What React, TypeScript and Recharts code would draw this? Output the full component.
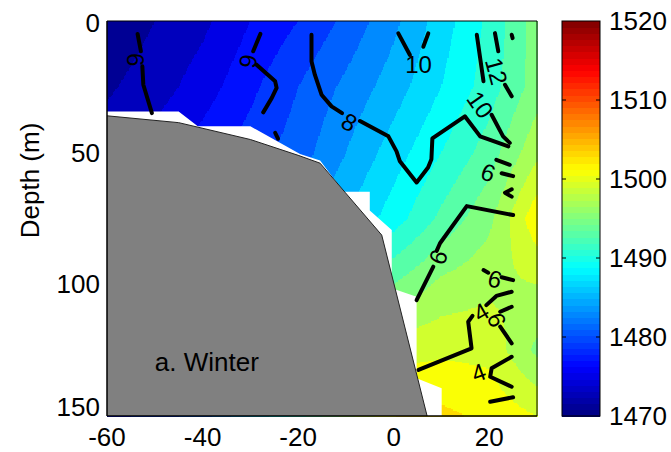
import React from 'react'
import { ComposedChart, XAxis, YAxis, Area, Line, Scatter, ReferenceArea } from 'recharts'

const FONT = '"Liberation Sans", Arial, Helvetica, sans-serif'

const X_MIN = -60
const X_MAX = 30
const D_MAX = 150
const C_MIN = 1470
const C_MAX = 1520

const xTicks = [-60, -40, -20, 0, 20]
const depthTicks = [0, 50, 100, 150]
const speedTicks = [1470, 1480, 1490, 1500, 1510, 1520]

// sound speed section (m/s), one row per depth, columns at gridX
const gridX = [-60, -50, -40, -30, -20, -10, 0, 10, 20, 30]
const gridDepth = [0, 25, 50, 75, 100, 125, 150]
const speed0 = [1470.5, 1472, 1473.5, 1476, 1478, 1480.5, 1483.5, 1487, 1490.5, 1495]
const speed25 = [1471.7, 1473, 1475, 1477.5, 1480, 1482.5, 1485, 1488, 1491, 1495]
const speed50 = [1473, 1475, 1477, 1479, 1481, 1484, 1487, 1490, 1493, 1497.5]
const speed75 = [1474, 1476, 1478, 1480, 1483, 1486, 1489, 1492.5, 1495.5, 1501.5]
const speed100 = [1475, 1477, 1479, 1482, 1486, 1490, 1494, 1496.5, 1497.5, 1498]
const speed125 = [1476, 1478, 1480, 1484, 1489, 1494, 1499.3, 1499.6, 1499.4, 1495.5]
const speed150 = [1477, 1479, 1481, 1486, 1491, 1497, 1502, 1502.5, 1501.5, 1500]
const speedRows = [speed0, speed25, speed50, speed75, speed100, speed125, speed150]

// lower edge of the sampled water (below it: no data)
const noDataEdge = [
  { x: -60, d: 34.4 }, { x: -45, d: 34.4 }, { x: -41, d: 40 }, { x: -30, d: 40 },
  { x: -19.6, d: 50.5 }, { x: -15.4, d: 53 }, { x: -10.5, d: 64.8 }, { x: -5, d: 64.8 },
  { x: -5, d: 72 }, { x: -0.4, d: 79.4 }, { x: -0.4, d: 101.5 }, { x: 4.8, d: 104.7 },
  { x: 4.8, d: 135.7 }, { x: 10.05, d: 139.5 }, { x: 10.05, d: 150 },
]

// bottom profile
const seabed = [
  { x: -60, d: 36 }, { x: -45, d: 38.6 }, { x: -30, d: 45 }, { x: -20, d: 51 },
  { x: -15.4, d: 54 }, { x: -10.2, d: 65 }, { x: -2.5, d: 81.3 }, { x: 7, d: 150 },
]

// temperature contour pieces (gaps left for the inline labels)
const isotherms = [
  [{ x: -53.6, d: 4.9 }, { x: -52.9, d: 11.5 }],
  [{ x: -52.6, d: 17.2 }, { x: -52.4, d: 24.2 }, { x: -50.6, d: 35 }],
  [{ x: -27.9, d: 4.9 }, { x: -29.4, d: 11.5 }],
  [{ x: -28.7, d: 16.6 }, { x: -24.8, d: 22.9 }, { x: -24.5, d: 25.4 }, { x: -25.5, d: 29.2 }, { x: -27.3, d: 34.7 }],
  [{ x: -24.8, d: 42.5 }, { x: -24.2, d: 44.7 }],
  [{ x: -17.2, d: 5.2 }, { x: -17.2, d: 15.3 }, { x: -16.5, d: 20.4 }, { x: -15.1, d: 28 }, { x: -13, d: 32.4 }, { x: -10.8, d: 35 }],
  [
    { x: -7.05, d: 38 }, { x: -1.1, d: 43.8 }, { x: 0.6, d: 49.5 }, { x: 1.3, d: 53.3 }, { x: 4.8, d: 61.3 },
    { x: 7.2, d: 55.6 }, { x: 7.9, d: 52.5 }, { x: 8.1, d: 44.6 }, { x: 14.9, d: 36.2 }, { x: 18.1, d: 43.8 },
    { x: 24.0, d: 47.6 },
  ],
  [{ x: 20.5, d: 35.6 }, { x: 22.9, d: 43.8 }, { x: 24.3, d: 46.3 }],
  [{ x: 0.97, d: 4.7 }, { x: 3.4, d: 12.9 }],
  [{ x: 7.25, d: 4.7 }, { x: 6.2, d: 9.8 }],
  [{ x: 17.4, d: 5.2 }, { x: 18.8, d: 22.9 }],
  [{ x: 21.2, d: 4.6 }, { x: 21.9, d: 11.5 }],
  [{ x: 23.3, d: 24.2 }, { x: 24.7, d: 28.6 }],
  [{ x: 24.7, d: 5.2 }, { x: 24.9, d: 6.5 }],
  [{ x: 21.5, d: 52.7 }, { x: 24.3, d: 54.6 }],
  [{ x: 22.6, d: 57.8 }, { x: 25, d: 58.9 }],
  [{ x: 24.7, d: 63.9 }, { x: 23.3, d: 65.2 }, { x: 24.7, d: 66.7 }],
  [{ x: 25, d: 73.7 }, { x: 15.3, d: 70.3 }, { x: 9.7, d: 84.4 }, { x: 9.0, d: 87.3 }],
  [{ x: 8.3, d: 93.3 }, { x: 4.8, d: 106 }],
  [{ x: 18.8, d: 94.6 }, { x: 19.8, d: 95.6 }],
  [{ x: 22.6, d: 97.3 }, { x: 25, d: 98.4 }],
  [{ x: 24.7, d: 102.8 }, { x: 21.5, d: 104.4 }, { x: 19.4, d: 107.9 }],
  [{ x: 22.3, d: 110.4 }, { x: 24.7, d: 108.5 }],
  [{ x: 22.3, d: 116.1 }, { x: 24.7, d: 122.4 }],
  [{ x: 16.5, d: 112 }, { x: 15.6, d: 114.2 }, { x: 16.3, d: 124.3 }, { x: 5.2, d: 132.5 }],
  [{ x: 24.7, d: 127.5 }, { x: 20.5, d: 131.9 }, { x: 20.2, d: 135.1 }, { x: 24.7, d: 138.9 }],
  [{ x: 20.2, d: 144.6 }, { x: 25, d: 142.9 }],
]

const isothermLabels = [
  { x: -54.1, d: 14.7, t: '6' },
  { x: -30.4, d: 15.3, t: '6' },
  { x: -9.3, d: 38.4, t: '8' },
  { x: 5.2, d: 16.7, t: '10' },
  { x: 21.5, d: 19.1, t: '12' },
  { x: 18.1, d: 31.8, t: '10' },
  { x: 19.8, d: 57.6, t: '6' },
  { x: 9.3, d: 89.7, t: '6' },
  { x: 21.2, d: 98, t: '6' },
  { x: 18.3, d: 110.5, t: '4' },
  { x: 21.6, d: 113.5, t: '6' },
  { x: 17.8, d: 133.5, t: '4' },
]
const labelAngles = [90, 100, 30, 0, 75, 55, 20, -68, 15, -30, 70, -20]

const panelTitle = { x: -50, d: 129.5, t: 'a. Winter' }

function jet(t: number) {
  const c = (v: number) => Math.round(255 * Math.max(0, Math.min(1, v)))
  return `rgb(${c(1.5 - Math.abs(4 * t - 3))},${c(1.5 - Math.abs(4 * t - 2))},${c(1.5 - Math.abs(4 * t - 1))})`
}

function speedAt(x: number, d: number) {
  let i = 0
  while (i < gridX.length - 2 && x > gridX[i + 1]) i++
  let j = 0
  while (j < gridDepth.length - 2 && d > gridDepth[j + 1]) j++
  const tx = (x - gridX[i]) / (gridX[i + 1] - gridX[i])
  const ty = (d - gridDepth[j]) / (gridDepth[j + 1] - gridDepth[j])
  const r0 = speedRows[j]
  const r1 = speedRows[j + 1]
  const top = r0[i] * (1 - tx) + r0[i + 1] * tx
  const bot = r1[i] * (1 - tx) + r1[i + 1] * tx
  return top * (1 - ty) + bot * ty
}

// filled-contour style: 2 m/s bands
const BAND = 2
function bandColor(v: number) {
  const lo = Math.floor((v - C_MIN) / BAND) * BAND + C_MIN
  return jet((lo + BAND / 2 - C_MIN) / (C_MAX - C_MIN))
}

function FieldShape(p: any) {
  const { x, y, width, height } = p
  const px = (v: number) => x + ((v - X_MIN) / (X_MAX - X_MIN)) * width
  const py = (d: number) => y + (d / D_MAX) * height
  const rects: React.ReactNode[] = []
  const dStep = 0.5
  const xStep = 0.25
  for (let d = 0; d < D_MAX; d += dStep) {
    const dc = d + dStep / 2
    let runStart = X_MIN
    let runColor: string | null = bandColor(speedAt(X_MIN + xStep / 2, dc))
    for (let xv = X_MIN + xStep; xv <= X_MAX; xv += xStep) {
      const c = xv >= X_MAX ? null : bandColor(speedAt(xv + xStep / 2, dc))
      if (c !== runColor) {
        rects.push(
          <rect
            key={`${d}_${runStart}`}
            x={px(runStart)}
            y={py(d)}
            width={px(xv) - px(runStart) + 0.6}
            height={py(d + dStep) - py(d) + 0.6}
            fill={runColor as string}
          />
        )
        runStart = xv
        runColor = c
      }
    }
  }
  return <g shapeRendering="crispEdges">{rects}</g>
}

function ColorbarShape(p: any) {
  const { x, y, width, height } = p
  const n = 64
  const sy = (v: number) => y + ((C_MAX - v) / (C_MAX - C_MIN)) * height
  const bands = []
  for (let k = 0; k < n; k++) {
    bands.push(
      <rect key={k} x={x} y={y + height * (1 - (k + 1) / n)} width={width} height={height / n + 0.6} fill={jet((k + 0.5) / n)} />
    )
  }
  return (
    <g>
      <g shapeRendering="crispEdges">{bands}</g>
      {speedTicks.slice(1, -1).map((v) => (
        <g key={v} stroke="#000" strokeWidth={1}>
          <line x1={x} x2={x + 4} y1={sy(v)} y2={sy(v)} />
          <line x1={x + width - 4} x2={x + width} y1={sy(v)} y2={sy(v)} />
        </g>
      ))}
      <rect x={x} y={y} width={width} height={height} fill="none" stroke="#000" strokeWidth={1} />
    </g>
  )
}

const ContourLabel = (p: any) => {
  const { cx, cy, payload } = p
  return (
    <text
      x={cx}
      y={cy}
      textAnchor="middle"
      dominantBaseline="central"
      fontSize={24}
      fontFamily={FONT}
      fill="#000"
      transform={`rotate(${payload.a} ${cx} ${cy})`}
    >
      {payload.t}
    </text>
  )
}

const TitleLabel = (p: any) => (
  <text x={p.cx} y={p.cy} dominantBaseline="central" fontSize={26} fontFamily={FONT} fill="#000">
    {p.payload.t}
  </text>
)

const DepthTitle = (p: any) => {
  const vb = p.viewBox
  const cx = vb.x - 17
  const cy = vb.y + vb.height / 2 - 38
  return (
    <text x={cx} y={cy} textAnchor="middle" dominantBaseline="central" fontSize={26} fontFamily={FONT} fill="#000" transform={`rotate(-90 ${cx} ${cy})`}>
      Depth (m)
    </text>
  )
}

// depth tick labels; the end labels are nudged inward so they stay clear of the x labels
const DepthTick = (p: any) => {
  const v = p.payload.value
  const nudge = v === D_MAX ? -9 : v === 0 ? 2 : 0
  return (
    <text x={p.x} y={p.y + nudge} textAnchor="end" dominantBaseline="central" fontSize={26} fontFamily={FONT} fill="#000">
      {v}
    </text>
  )
}

const tickStyle = { fill: '#000', fontSize: 26, fontFamily: FONT }

export default function App() {
  const labelData = isothermLabels.map((l, i) => ({ ...l, a: labelAngles[i] }))
  return (
    <div style={{ position: 'absolute', left: 0, top: 0, width: 671, height: 452, background: '#fff', fontFamily: FONT }}>
      <div style={{ position: 'absolute', left: 0, top: 0 }}>
        <ComposedChart width={671} height={452} margin={{ top: 21, right: 134, bottom: 6, left: 47 }}>
          <XAxis
            type="number"
            dataKey="x"
            domain={[X_MIN, X_MAX]}
            ticks={xTicks}
            interval={0}
            allowDataOverflow
            height={30}
            tickLine={false}
            tickSize={0}
            tickMargin={12}
            axisLine={{ stroke: '#000' }}
            tick={tickStyle}
          />
          <YAxis
            type="number"
            dataKey="d"
            reversed
            domain={[0, D_MAX]}
            ticks={depthTicks}
            interval={0}
            allowDataOverflow
            width={60}
            tickLine={false}
            tickSize={0}
            tickMargin={7}
            axisLine={{ stroke: '#000' }}
            tick={<DepthTick />}
            label={<DepthTitle />}
          />
          <ReferenceArea x1={X_MIN} x2={X_MAX} y1={0} y2={D_MAX} shape={FieldShape} zIndex={10} />
          <Area
            data={noDataEdge}
            dataKey="d"
            type="linear"
            baseValue={D_MAX}
            fill="#ffffff"
            fillOpacity={1}
            stroke="none"
            isAnimationActive={false}
            zIndex={20}
          />
          <Area
            data={seabed}
            dataKey="d"
            type="linear"
            baseValue={D_MAX}
            fill="#808080"
            fillOpacity={1}
            stroke="#222"
            strokeWidth={1}
            isAnimationActive={false}
            zIndex={30}
          />
          {isotherms.map((seg, i) => (
            <Line
              key={i}
              data={seg}
              dataKey="d"
              type="linear"
              stroke="#000"
              strokeWidth={4}
              strokeLinecap="round"
              strokeLinejoin="round"
              dot={false}
              activeDot={false}
              isAnimationActive={false}
            />
          ))}
          <Scatter data={labelData} dataKey="d" shape={ContourLabel} isAnimationActive={false} />
          <Scatter data={[panelTitle]} dataKey="d" shape={TitleLabel} isAnimationActive={false} />
          <ReferenceArea x1={X_MIN} x2={X_MAX} y1={0} y2={D_MAX} fill="none" fillOpacity={0} stroke="#000" strokeWidth={1} zIndex={700} />
        </ComposedChart>
      </div>
      <div style={{ position: 'absolute', left: 0, top: 0 }}>
        <ComposedChart width={671} height={452} margin={{ top: 21, right: 0, bottom: 36, left: 562 }} data={[{ x: 0 }, { x: 1 }]}>
          <XAxis type="number" dataKey="x" domain={[0, 1]} hide height={0} />
          <YAxis
            type="number"
            orientation="right"
            domain={[C_MIN, C_MAX]}
            ticks={speedTicks}
            interval={0}
            allowDataOverflow
            width={71}
            tickLine={false}
            tickSize={0}
            tickMargin={9}
            axisLine={false}
            tick={tickStyle}
          />
          <ReferenceArea x1={0} x2={1} y1={C_MIN} y2={C_MAX} shape={ColorbarShape} />
        </ComposedChart>
      </div>
    </div>
  )
}
